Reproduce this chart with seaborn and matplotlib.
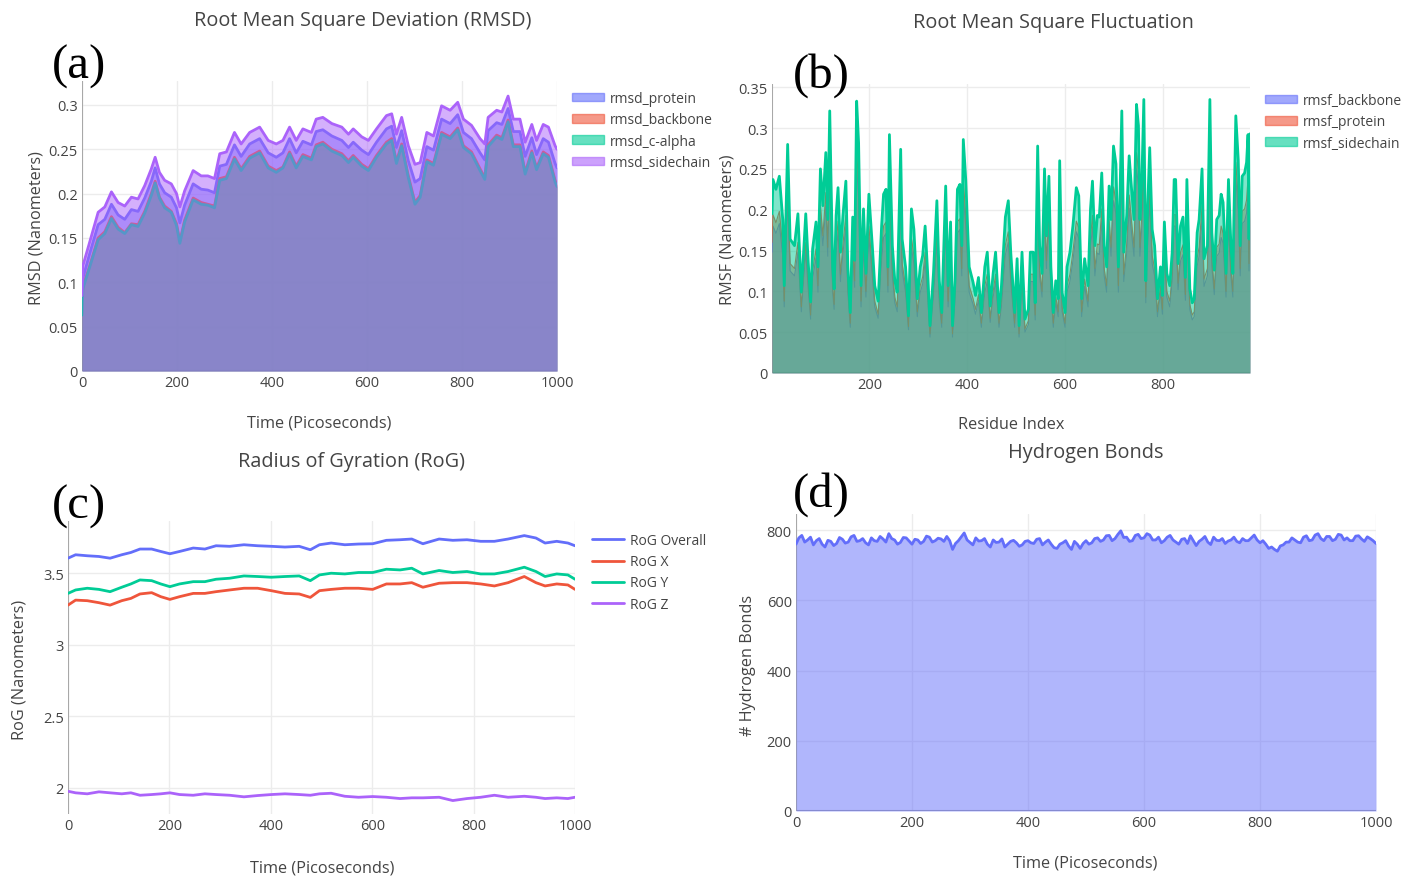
import matplotlib
matplotlib.use("Agg")
import matplotlib.pyplot as plt
from matplotlib.lines import Line2D
from matplotlib.patches import Patch
from matplotlib.ticker import FuncFormatter, MultipleLocator
import seaborn as sns

# ---------------- (a) RMSD ----------------
time_a = [0, 2, 16, 34, 48, 62, 76, 90, 104, 118,
          132, 146, 154, 163, 174, 188, 199, 206, 216, 234,
          251, 265, 279, 290, 304, 321, 335, 353, 374, 392,
          409, 423, 437, 451, 465, 483, 493, 507, 526, 547,
          561, 571, 589, 603, 620, 641, 652, 662, 673, 687,
          701, 712, 726, 740, 757, 775, 791, 803, 820, 838,
          848, 855, 873, 884, 897, 908, 922, 933, 947, 957,
          971, 982, 996, 1000]
rmsd_protein = [0.075, 0.105, 0.132, 0.165, 0.171, 0.188, 0.176, 0.171, 0.182, 0.180,
                0.195, 0.214, 0.229, 0.211, 0.201, 0.196, 0.184, 0.167, 0.187, 0.211,
                0.205, 0.204, 0.201, 0.231, 0.233, 0.255, 0.242, 0.256, 0.262, 0.246,
                0.241, 0.246, 0.262, 0.246, 0.259, 0.255, 0.270, 0.272, 0.265, 0.260,
                0.252, 0.258, 0.249, 0.244, 0.258, 0.273, 0.276, 0.252, 0.271, 0.237,
                0.213, 0.217, 0.253, 0.249, 0.284, 0.279, 0.289, 0.269, 0.262, 0.246,
                0.238, 0.271, 0.280, 0.278, 0.296, 0.270, 0.270, 0.242, 0.263, 0.244,
                0.262, 0.258, 0.234, 0.229]
rmsd_backbone = [0.065, 0.095, 0.118, 0.150, 0.157, 0.174, 0.162, 0.156, 0.166, 0.165,
                 0.180, 0.200, 0.214, 0.196, 0.186, 0.180, 0.166, 0.146, 0.170, 0.195,
                 0.190, 0.188, 0.186, 0.217, 0.219, 0.241, 0.228, 0.242, 0.248, 0.231,
                 0.226, 0.230, 0.247, 0.231, 0.244, 0.240, 0.255, 0.258, 0.250, 0.245,
                 0.237, 0.243, 0.233, 0.228, 0.243, 0.258, 0.262, 0.236, 0.256, 0.220,
                 0.190, 0.198, 0.238, 0.234, 0.269, 0.264, 0.274, 0.254, 0.247, 0.228,
                 0.218, 0.255, 0.266, 0.263, 0.283, 0.255, 0.255, 0.224, 0.248, 0.229,
                 0.247, 0.243, 0.215, 0.210]
rmsd_calpha = [0.063, 0.093, 0.117, 0.148, 0.155, 0.172, 0.160, 0.155, 0.165, 0.163,
               0.178, 0.198, 0.212, 0.195, 0.184, 0.179, 0.164, 0.144, 0.168, 0.193,
               0.188, 0.187, 0.184, 0.215, 0.217, 0.239, 0.226, 0.240, 0.246, 0.229,
               0.224, 0.229, 0.245, 0.229, 0.242, 0.238, 0.253, 0.256, 0.248, 0.243,
               0.235, 0.241, 0.231, 0.226, 0.241, 0.256, 0.260, 0.234, 0.254, 0.218,
               0.188, 0.196, 0.236, 0.232, 0.267, 0.262, 0.272, 0.252, 0.245, 0.226,
               0.216, 0.253, 0.264, 0.261, 0.281, 0.253, 0.253, 0.222, 0.246, 0.227,
               0.245, 0.241, 0.213, 0.208]
rmsd_sidechain = [0.085, 0.119, 0.145, 0.179, 0.185, 0.202, 0.190, 0.186, 0.196, 0.194,
                  0.209, 0.228, 0.241, 0.224, 0.215, 0.211, 0.200, 0.185, 0.203, 0.226,
                  0.220, 0.220, 0.217, 0.245, 0.247, 0.269, 0.256, 0.269, 0.275, 0.260,
                  0.256, 0.260, 0.275, 0.260, 0.273, 0.269, 0.284, 0.286, 0.279, 0.275,
                  0.267, 0.273, 0.264, 0.260, 0.273, 0.288, 0.290, 0.267, 0.286, 0.254,
                  0.233, 0.235, 0.269, 0.265, 0.299, 0.294, 0.303, 0.284, 0.277, 0.262,
                  0.256, 0.286, 0.294, 0.292, 0.310, 0.284, 0.284, 0.258, 0.278, 0.260,
                  0.278, 0.275, 0.254, 0.250]

# ---------------- (b) RMSF ----------------
residue = [1, 3, 9, 16, 23, 26, 33, 38, 47, 54,
           61, 70, 75, 80, 84, 91, 95, 100, 105, 111,
           115, 119, 125, 128, 132, 136, 141, 146, 152, 156,
           161, 166, 170, 174, 178, 183, 188, 193, 199, 206,
           211, 218, 225, 229, 234, 238, 241, 247, 252, 257,
           264, 267, 274, 280, 286, 291, 298, 304, 309, 314,
           320, 324, 331, 338, 343, 348, 356, 361, 366, 370,
           375, 380, 385, 389, 392, 397, 404, 412, 417, 423,
           429, 436, 441, 447, 453, 458, 465, 470, 478, 484,
           489, 497, 502, 506, 512, 518, 525, 529, 535, 539,
           544, 548, 553, 558, 562, 567, 571, 576, 581, 586,
           589, 594, 600, 604, 610, 616, 623, 628, 634, 640,
           647, 652, 656, 661, 666, 670, 675, 680, 685, 690,
           694, 699, 704, 709, 716, 720, 726, 731, 736, 741,
           746, 750, 753, 757, 761, 765, 768, 773, 778, 783,
           789, 795, 799, 803, 808, 814, 819, 823, 826, 831,
           836, 841, 846, 849, 855, 860, 864, 870, 874, 880,
           884, 891, 896, 900, 905, 910, 915, 919, 923, 929,
           934, 939, 943, 949, 954, 958, 962, 967, 971, 974,
           976, 978]
rmsf_sidechain = [0.195, 0.237, 0.225, 0.241, 0.188, 0.107, 0.280, 0.164, 0.156, 0.195,
                  0.099, 0.195, 0.136, 0.087, 0.152, 0.185, 0.130, 0.250, 0.205, 0.270,
                  0.188, 0.321, 0.130, 0.103, 0.193, 0.227, 0.148, 0.193, 0.235, 0.130,
                  0.074, 0.191, 0.138, 0.333, 0.282, 0.107, 0.201, 0.122, 0.219, 0.156,
                  0.107, 0.088, 0.180, 0.219, 0.225, 0.130, 0.292, 0.156, 0.113, 0.099,
                  0.274, 0.164, 0.130, 0.070, 0.201, 0.176, 0.091, 0.130, 0.144, 0.180,
                  0.113, 0.058, 0.122, 0.211, 0.113, 0.074, 0.229, 0.107, 0.185, 0.058,
                  0.113, 0.225, 0.231, 0.156, 0.286, 0.237, 0.130, 0.111, 0.095, 0.117,
                  0.074, 0.130, 0.148, 0.082, 0.122, 0.148, 0.074, 0.107, 0.191, 0.211,
                  0.148, 0.074, 0.140, 0.058, 0.148, 0.066, 0.078, 0.148, 0.148, 0.086,
                  0.278, 0.156, 0.122, 0.250, 0.168, 0.241, 0.130, 0.074, 0.113, 0.091,
                  0.260, 0.099, 0.074, 0.130, 0.148, 0.180, 0.227, 0.217, 0.091, 0.140,
                  0.107, 0.201, 0.235, 0.156, 0.193, 0.191, 0.245, 0.156, 0.130, 0.229,
                  0.188, 0.278, 0.256, 0.130, 0.321, 0.148, 0.193, 0.266, 0.225, 0.188,
                  0.329, 0.303, 0.188, 0.237, 0.335, 0.113, 0.188, 0.276, 0.176, 0.156,
                  0.091, 0.130, 0.095, 0.185, 0.122, 0.107, 0.148, 0.237, 0.237, 0.134,
                  0.180, 0.191, 0.117, 0.237, 0.103, 0.086, 0.091, 0.172, 0.188, 0.250,
                  0.140, 0.156, 0.335, 0.172, 0.126, 0.188, 0.193, 0.219, 0.209, 0.122,
                  0.237, 0.156, 0.122, 0.315, 0.261, 0.156, 0.241, 0.245, 0.258, 0.292,
                  0.164, 0.293]
rmsf_protein = [0.160, 0.194, 0.184, 0.198, 0.154, 0.088, 0.230, 0.134, 0.128, 0.160,
                0.081, 0.160, 0.112, 0.071, 0.125, 0.152, 0.107, 0.205, 0.168, 0.221,
                0.154, 0.263, 0.107, 0.084, 0.158, 0.186, 0.121, 0.158, 0.193, 0.107,
                0.061, 0.157, 0.113, 0.273, 0.231, 0.088, 0.165, 0.100, 0.180, 0.128,
                0.088, 0.072, 0.148, 0.180, 0.185, 0.107, 0.239, 0.128, 0.093, 0.081,
                0.225, 0.134, 0.107, 0.057, 0.165, 0.144, 0.075, 0.107, 0.118, 0.148,
                0.093, 0.048, 0.100, 0.173, 0.093, 0.061, 0.188, 0.088, 0.152, 0.048,
                0.093, 0.185, 0.189, 0.128, 0.235, 0.194, 0.107, 0.091, 0.078, 0.096,
                0.061, 0.107, 0.121, 0.067, 0.100, 0.121, 0.061, 0.088, 0.157, 0.173,
                0.121, 0.061, 0.115, 0.048, 0.121, 0.054, 0.064, 0.121, 0.121, 0.071,
                0.228, 0.128, 0.100, 0.205, 0.138, 0.198, 0.107, 0.061, 0.093, 0.075,
                0.213, 0.081, 0.061, 0.107, 0.121, 0.148, 0.186, 0.178, 0.075, 0.115,
                0.088, 0.165, 0.193, 0.128, 0.158, 0.157, 0.201, 0.128, 0.107, 0.188,
                0.154, 0.228, 0.210, 0.107, 0.263, 0.121, 0.158, 0.218, 0.185, 0.154,
                0.270, 0.248, 0.154, 0.194, 0.275, 0.093, 0.154, 0.226, 0.144, 0.128,
                0.075, 0.107, 0.078, 0.152, 0.100, 0.088, 0.121, 0.194, 0.194, 0.110,
                0.148, 0.157, 0.096, 0.194, 0.084, 0.071, 0.075, 0.141, 0.154, 0.205,
                0.115, 0.128, 0.275, 0.141, 0.103, 0.154, 0.158, 0.180, 0.171, 0.100,
                0.194, 0.128, 0.100, 0.258, 0.214, 0.128, 0.198, 0.201, 0.212, 0.239,
                0.134, 0.240]
rmsf_backbone = [0.148, 0.180, 0.171, 0.183, 0.143, 0.081, 0.213, 0.125, 0.119, 0.148,
                 0.075, 0.148, 0.103, 0.066, 0.116, 0.141, 0.099, 0.190, 0.156, 0.205,
                 0.143, 0.244, 0.099, 0.078, 0.147, 0.173, 0.112, 0.147, 0.179, 0.099,
                 0.056, 0.145, 0.105, 0.253, 0.214, 0.081, 0.153, 0.093, 0.166, 0.119,
                 0.081, 0.067, 0.137, 0.166, 0.171, 0.099, 0.222, 0.119, 0.086, 0.075,
                 0.208, 0.125, 0.099, 0.053, 0.153, 0.134, 0.069, 0.099, 0.109, 0.137,
                 0.086, 0.044, 0.093, 0.160, 0.086, 0.056, 0.174, 0.081, 0.141, 0.044,
                 0.086, 0.171, 0.176, 0.119, 0.217, 0.180, 0.099, 0.084, 0.072, 0.089,
                 0.056, 0.099, 0.112, 0.062, 0.093, 0.112, 0.056, 0.081, 0.145, 0.160,
                 0.112, 0.056, 0.106, 0.044, 0.112, 0.050, 0.059, 0.112, 0.112, 0.065,
                 0.211, 0.119, 0.093, 0.190, 0.128, 0.183, 0.099, 0.056, 0.086, 0.069,
                 0.198, 0.075, 0.056, 0.099, 0.112, 0.137, 0.173, 0.165, 0.069, 0.106,
                 0.081, 0.153, 0.179, 0.119, 0.147, 0.145, 0.186, 0.119, 0.099, 0.174,
                 0.143, 0.211, 0.195, 0.099, 0.244, 0.112, 0.147, 0.202, 0.171, 0.143,
                 0.250, 0.230, 0.143, 0.180, 0.255, 0.086, 0.143, 0.210, 0.134, 0.119,
                 0.069, 0.099, 0.072, 0.141, 0.093, 0.081, 0.112, 0.180, 0.180, 0.102,
                 0.137, 0.145, 0.089, 0.180, 0.078, 0.065, 0.069, 0.131, 0.143, 0.190,
                 0.106, 0.119, 0.255, 0.131, 0.096, 0.143, 0.147, 0.166, 0.159, 0.093,
                 0.180, 0.119, 0.093, 0.239, 0.198, 0.119, 0.183, 0.186, 0.196, 0.222,
                 0.125, 0.223]

# ---------------- (c) Radius of gyration ----------------
time_c = [0, 15, 38, 61, 83, 106, 124, 142, 165, 183,
          201, 220, 247, 270, 292, 319, 347, 374, 401, 428,
          456, 478, 496, 519, 546, 573, 601, 628, 655, 678,
          700, 732, 759, 787, 814, 841, 868, 900, 923, 941,
          964, 986, 1000]
rog_overall = [3.605, 3.629, 3.622, 3.617, 3.605, 3.629, 3.645, 3.669, 3.669, 3.652,
               3.636, 3.652, 3.676, 3.669, 3.692, 3.688, 3.699, 3.692, 3.688, 3.683,
               3.688, 3.664, 3.699, 3.711, 3.699, 3.704, 3.706, 3.730, 3.734, 3.739,
               3.706, 3.739, 3.730, 3.734, 3.723, 3.723, 3.739, 3.763, 3.746, 3.711,
               3.723, 3.711, 3.692]
rog_x = [3.277, 3.312, 3.308, 3.294, 3.277, 3.308, 3.324, 3.355, 3.364, 3.336,
         3.317, 3.336, 3.359, 3.359, 3.371, 3.383, 3.395, 3.395, 3.378, 3.359,
         3.355, 3.331, 3.378, 3.387, 3.395, 3.395, 3.387, 3.425, 3.425, 3.434,
         3.402, 3.430, 3.434, 3.434, 3.425, 3.411, 3.434, 3.477, 3.434, 3.411,
         3.425, 3.418, 3.387]
rog_y = [3.359, 3.383, 3.395, 3.387, 3.371, 3.402, 3.425, 3.453, 3.448, 3.425,
         3.406, 3.425, 3.441, 3.441, 3.458, 3.465, 3.481, 3.477, 3.472, 3.477,
         3.481, 3.448, 3.488, 3.500, 3.495, 3.505, 3.505, 3.528, 3.523, 3.535,
         3.495, 3.519, 3.505, 3.512, 3.495, 3.495, 3.512, 3.542, 3.512, 3.477,
         3.495, 3.488, 3.458]
rog_z = [1.976, 1.965, 1.958, 1.972, 1.965, 1.958, 1.965, 1.948, 1.953, 1.958,
         1.965, 1.953, 1.948, 1.958, 1.953, 1.948, 1.937, 1.946, 1.953, 1.958,
         1.953, 1.948, 1.958, 1.962, 1.941, 1.934, 1.939, 1.934, 1.925, 1.930,
         1.930, 1.934, 1.911, 1.925, 1.934, 1.948, 1.934, 1.941, 1.934, 1.925,
         1.930, 1.925, 1.934]

# ---------------- (d) Hydrogen bonds ----------------
time_d = list(range(0, 1001, 5))
hbonds = [760, 778, 785, 766, 772, 780, 758, 770, 776, 760, 752, 771, 768, 756, 762, 779, 774, 763, 766, 781,
          785, 768, 770, 776, 764, 758, 778, 770, 768, 782, 775, 766, 790, 776, 772, 760, 765, 779, 778, 769,
          760, 774, 772, 762, 768, 783, 780, 766, 770, 777, 775, 768, 782, 770, 745, 762, 770, 781, 792, 772,
          765, 758, 778, 769, 770, 776, 760, 752, 772, 765, 766, 775, 752, 760, 768, 771, 764, 754, 758, 768,
          770, 764, 762, 774, 776, 758, 766, 772, 760, 750, 748, 760, 764, 770, 755, 745, 768, 760, 748, 762,
          770, 760, 764, 776, 778, 768, 772, 784, 785, 770, 776, 788, 798, 779, 780, 768, 770, 785, 788, 776,
          778, 790, 786, 772, 772, 780, 764, 770, 780, 785, 772, 766, 760, 774, 776, 762, 784, 770, 756, 768,
          774, 782, 766, 759, 780, 771, 770, 776, 762, 769, 772, 780, 768, 764, 776, 770, 770, 778, 786, 772,
          764, 770, 760, 748, 752, 745, 740, 755, 758, 766, 766, 778, 772, 766, 764, 780, 784, 770, 772, 786,
          790, 776, 770, 782, 782, 770, 774, 788, 786, 772, 778, 770, 770, 783, 784, 775, 768, 781, 776, 770,
          762]

BLUE = "#636efa"
RED = "#ef553b"
GREEN = "#00cc96"
PURPLE = "#ab63fa"
TEXT = "#444444"
W, H = 1404, 878

sns.set_theme(style="whitegrid")
plt.rcParams["font.family"] = ["Open Sans", "DejaVu Sans"]

fig = plt.figure(figsize=(W / 100, H / 100), dpi=100)
fig.patch.set_facecolor("white")


def px_axes(left, top, right, bottom):
    return fig.add_axes([left / W, 1 - bottom / H, (right - left) / W, (bottom - top) / H])


def style_axes(ax):
    ax.set_facecolor("white")
    ax.grid(True, color="#ececec", linewidth=1)
    ax.set_axisbelow(True)
    for s in ax.spines.values():
        s.set_visible(False)
    ax.tick_params(length=0, labelsize=10.5, labelcolor=TEXT, pad=3)
    ax.yaxis.set_major_formatter(FuncFormatter(lambda v, p: f"{v:g}"))


def area(ax, x, y, color, z, lw=2):
    ax.fill_between(x, y, 0, color=color, alpha=0.5, linewidth=0, zorder=z)
    sns.lineplot(x=x, y=y, ax=ax, color=color, linewidth=lw, estimator=None,
                 sort=False, zorder=z + 0.5)


def zero_lines(ax, vertical=True, horizontal=True):
    if vertical:
        ax.axvline(0, color="#a8a8a8", linewidth=1.5, zorder=0.9)
    if horizontal:
        ax.axhline(0, color="#a8a8a8", linewidth=1.5, zorder=0.9)


def labels(ax, xlabel, ylabel, xpos, ypos):
    ax.set_xlabel(xlabel, fontsize=11.7, color=TEXT)
    ax.set_ylabel(ylabel, fontsize=11.7, color=TEXT)
    ax.xaxis.set_label_coords(*xpos)
    ax.yaxis.set_label_coords(*ypos)
    ax.xaxis.label.set_va("center")
    ax.yaxis.label.set_va("center")


def legend(ax, handles, names, x, y):
    ax.legend(handles, names, loc="upper left", bbox_to_anchor=(x / W, 1 - y / H),
              bbox_transform=fig.transFigure, frameon=False, fontsize=10,
              handlelength=2.3, handleheight=0.55, handletextpad=0.45,
              labelspacing=0.45, borderpad=0, borderaxespad=0, labelcolor=TEXT)


def fig_text(x, y, s, **kw):
    fig.text(x / W, 1 - y / H, s, ha="center", va="center", **kw)


def patch(c):
    return Patch(facecolor=c, edgecolor=c, alpha=0.6, linewidth=1)


# ---- (a)
ax = px_axes(82, 82, 557, 372)
style_axes(ax)
zero_lines(ax)
for i, (vals, c) in enumerate([(rmsd_protein, BLUE), (rmsd_backbone, RED),
                               (rmsd_calpha, GREEN), (rmsd_sidechain, PURPLE)]):
    area(ax, time_a, vals, c, 2 + 2 * i)
ax.set_xlim(0, 1000)
ax.set_ylim(0, 0.327)
ax.xaxis.set_major_locator(MultipleLocator(200))
ax.yaxis.set_major_locator(MultipleLocator(0.05))
labels(ax, "Time (Picoseconds)", "RMSD (Nanometers)", (0.499, -0.176), (-0.095, 0.497))
legend(ax, [patch(BLUE), patch(RED), patch(GREEN), patch(PURPLE)],
       ["rmsd_protein", "rmsd_backbone", "rmsd_c-alpha", "rmsd_sidechain"], 572, 92)

# ---- (b)
ax = px_axes(772, 85, 1250, 374)
style_axes(ax)
zero_lines(ax)
area(ax, residue, rmsf_backbone, BLUE, 2, lw=0.8)
area(ax, residue, rmsf_protein, RED, 4, lw=0.8)
area(ax, residue, rmsf_sidechain, GREEN, 6)
ax.set_xlim(1, 978)
ax.set_ylim(0, 0.354)
ax.set_xticks([200, 400, 600, 800])
ax.yaxis.set_major_locator(MultipleLocator(0.05))
labels(ax, "Residue Index", "RMSF (Nanometers)", (0.5, -0.176), (-0.094, 0.498))
legend(ax, [patch(BLUE), patch(RED), patch(GREEN)],
       ["rmsf_backbone", "rmsf_protein", "rmsf_sidechain"], 1265, 94)

# ---- (c)
ax = px_axes(68, 522, 575, 815)
style_axes(ax)
zero_lines(ax, horizontal=False)
for vals, c in [(rog_overall, BLUE), (rog_x, RED), (rog_y, GREEN), (rog_z, PURPLE)]:
    sns.lineplot(x=time_c, y=vals, ax=ax, color=c, linewidth=2, estimator=None, sort=False)
ax.set_xlim(0, 1000)
ax.set_ylim(1.817, 3.865)
ax.xaxis.set_major_locator(MultipleLocator(200))
ax.set_yticks([2, 2.5, 3, 3.5])
labels(ax, "Time (Picoseconds)", "RoG (Nanometers)", (0.501, -0.181), (-0.095, 0.495))
legend(ax, [Line2D([], [], color=c, linewidth=2) for c in (BLUE, RED, GREEN, PURPLE)],
       ["RoG Overall", "RoG X", "RoG Y", "RoG Z"], 592, 534)

# ---- (d)
ax = px_axes(796, 515, 1376, 812)
style_axes(ax)
zero_lines(ax)
area(ax, time_d, hbonds, BLUE, 2)
ax.set_xlim(0, 1000)
ax.set_ylim(0, 846)
ax.xaxis.set_major_locator(MultipleLocator(200))
ax.yaxis.set_major_locator(MultipleLocator(200))
labels(ax, "Time (Picoseconds)", "# Hydrogen Bonds", (0.498, -0.175), (-0.083, 0.495))

# titles
fig_text(363, 21, "Root Mean Square Deviation (RMSD)", fontsize=14.3, color=TEXT)
fig_text(1053, 23, "Root Mean Square Fluctuation", fontsize=14.3, color=TEXT)
fig_text(352, 462, "Radius of Gyration (RoG)", fontsize=14.3, color=TEXT)
fig_text(1086, 453, "Hydrogen Bonds", fontsize=14.3, color=TEXT)

# panel letters
for s, x, y in [("(a)", 52, 67), ("(b)", 793, 76), ("(c)", 52, 507), ("(d)", 793, 495)]:
    fig.text(x / W, 1 - y / H, s, family="Liberation Serif", fontsize=35,
             ha="left", va="center", color="black")

fig.savefig("out.png", dpi=100)
